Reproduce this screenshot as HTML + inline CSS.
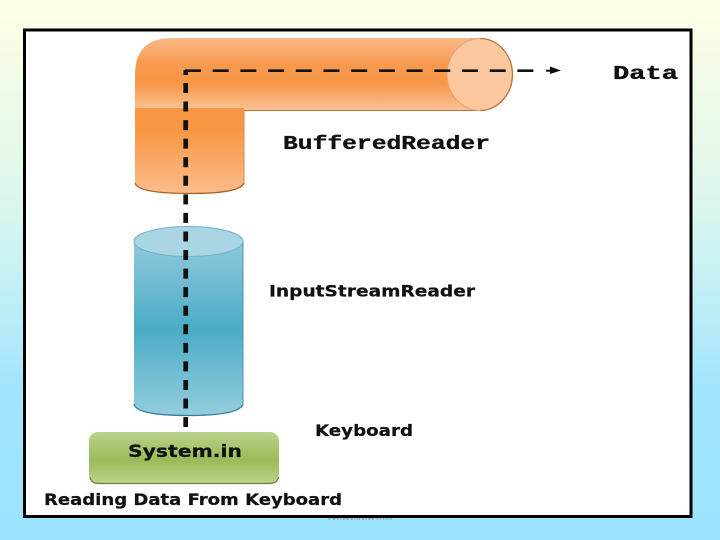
<!DOCTYPE html>
<html><head><meta charset="utf-8"><style>
html,body{margin:0;padding:0;width:720px;height:540px;overflow:hidden}
svg{display:block}
</style></head><body>
<svg width="720" height="540" viewBox="0 0 720 540" xmlns="http://www.w3.org/2000/svg">
<defs>
<linearGradient id="bg" x1="0" y1="0" x2="0" y2="1">
<stop offset="0" stop-color="#FFFFE8"/><stop offset="0.1" stop-color="#F5FCE6"/><stop offset="0.35" stop-color="#DFF7EC"/><stop offset="0.5" stop-color="#C8F1F4"/><stop offset="0.72" stop-color="#A2E5FE"/><stop offset="1" stop-color="#9CE3FF"/>
</linearGradient>
<linearGradient id="or" x1="0" y1="0" x2="0" y2="1">
<stop offset="0" stop-color="#FAB98A"/><stop offset="0.35" stop-color="#F79A4E"/><stop offset="0.62" stop-color="#F79646"/><stop offset="1" stop-color="#FBC195"/>
</linearGradient>
<linearGradient id="or2" x1="0" y1="0" x2="0" y2="1">
<stop offset="0" stop-color="#F79646"/><stop offset="0.25" stop-color="#F89744"/><stop offset="1" stop-color="#FBBC8C"/>
</linearGradient>
<linearGradient id="bl" x1="0" y1="0" x2="0" y2="1">
<stop offset="0" stop-color="#90C9DC"/><stop offset="0.5" stop-color="#4BACC6"/><stop offset="1" stop-color="#93CDDD"/>
</linearGradient>
<linearGradient id="gr" x1="0" y1="0" x2="0" y2="1">
<stop offset="0" stop-color="#BBD28C"/><stop offset="0.55" stop-color="#9BBB59"/><stop offset="1" stop-color="#BBD28C"/>
</linearGradient>
<clipPath id="below"><rect x="300" y="517" width="120" height="3"/></clipPath>
</defs>
<rect width="720" height="540" fill="url(#bg)"/>
<text x="328" y="521" font-family="Liberation Sans, sans-serif" font-size="9" fill="#8a9aa5" textLength="64" clip-path="url(#below)">Hemant Kumar 2016</text>
<rect x="24.5" y="30" width="666.5" height="486.500" fill="#fff" stroke="#000" stroke-width="3"/>

<!-- Orange vertical -->
<path d="M135 108H244V183Q244 194 190 194Q135 194 135 183Z" fill="url(#or2)"/>
<path d="M135 183Q138 193.500 190 193.500Q240 193.500 244 183" fill="none" stroke="#A65E22" stroke-width="1.300"/>
<path d="M244 110V183" stroke="#D98A4A" stroke-width="1"/>
<!-- Orange horizontal pipe -->
<path d="M480 38H172Q135 38 135 75V108H244V110H480Z" fill="url(#or)"/>
<path d="M244 110.500H480" stroke="#BE7335" stroke-width="1"/>
<ellipse cx="480" cy="74.500" rx="33" ry="36" fill="#FBC79F"/>
<path d="M480 38.500C498 38.500 512.500 55 512.500 74.500C512.500 94 498 110.500 480 110.500" fill="none" stroke="#B87236" stroke-width="1.300"/>
<path d="M480 38.500C462 38.500 447 55 447 74.500C447 94 462 110.500 480 110.500" fill="none" stroke="#E8A26A" stroke-width="1"/>

<!-- Blue cylinder -->
<path d="M134 242V404Q136 416 188 416Q240 416 243 404V242Z" fill="url(#bl)"/>
<path d="M134 404Q136 415.500 188 415.500Q240 415.500 243 404" fill="none" stroke="#2F7F96" stroke-width="1.300"/>
<path d="M243 242V404" stroke="#4A93A8" stroke-width="1"/>
<ellipse cx="188.500" cy="241.500" rx="54.500" ry="15" fill="#A9D5E4" stroke="#6FB2C8" stroke-width="1"/>

<!-- Green box -->
<rect x="89" y="432" width="190" height="51" rx="9" fill="url(#gr)"/>
<path d="M90 477Q91 483.500 99 483.500H269Q277.500 483.500 278.500 477" fill="none" stroke="#6B8038" stroke-width="1.200"/>

<!-- Dashes -->
<path d="M185.700 70V75" stroke="#111" stroke-width="4.500" fill="none"/>
<path d="M185.700 83V427" stroke="#111" stroke-width="4.700" stroke-dasharray="10 8.560" fill="none"/>
<path d="M185 70.700H540" stroke="#111" stroke-width="2.600" stroke-dasharray="16 11.700" fill="none"/>
<path d="M546 70.700H552" stroke="#111" stroke-width="2"/>
<path d="M550 66.500L561 70.500L550 74Z" fill="#111"/>

<!-- Text -->
<g font-family="Liberation Mono, monospace" font-weight="bold" fill="#111" stroke="#111" stroke-width="0.350">
<text x="283" y="149" font-size="19" textLength="207" lengthAdjust="spacingAndGlyphs">BufferedReader</text>
<text x="613" y="79" font-size="19" textLength="65" lengthAdjust="spacingAndGlyphs">Data</text>
</g>
<g font-family="DejaVu Sans, sans-serif" font-weight="bold" fill="#111" stroke="#111" stroke-width="0.250">
<text x="269" y="296.500" font-size="16" textLength="206" lengthAdjust="spacingAndGlyphs">InputStreamReader</text>
<text x="315" y="436" font-size="16" textLength="98" lengthAdjust="spacingAndGlyphs">Keyboard</text>
<text x="128" y="457" font-size="17" textLength="114" lengthAdjust="spacingAndGlyphs">System.in</text>
<text x="44" y="505" font-size="16" textLength="298" lengthAdjust="spacingAndGlyphs">Reading Data From Keyboard</text>
</g>
</svg>
</body></html>
